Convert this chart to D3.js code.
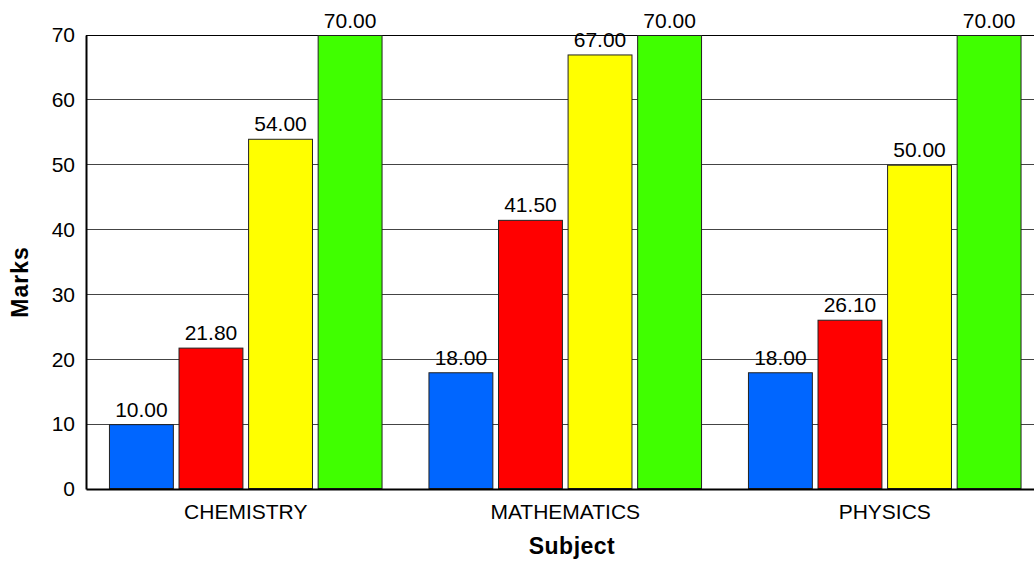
<!DOCTYPE html>
<html><head><meta charset="utf-8">
<script src="https://cdn.jsdelivr.net/npm/d3@7"></script>
<style>body{margin:0;background:#fff;} svg{display:block;font-family:"Liberation Sans",Arial,sans-serif;}</style>
</head><body>
<svg id="chart" width="1034" height="562"></svg>
<script>
const categories = ["CHEMISTRY", "MATHEMATICS", "PHYSICS"];
const seriesNames = ["s1", "s2", "s3", "s4"];
const seriesColors = ["#0066ff", "#ff0000", "#ffff00", "#40ff00"];
const s1 = [10.00, 18.00, 18.00];
const s2 = [21.80, 41.50, 26.10];
const s3 = [54.00, 67.00, 50.00];
const s4 = [70.00, 70.00, 70.00];
const yTicks = [0, 10, 20, 30, 40, 50, 60, 70];
const seriesValues = [s1, s2, s3, s4];

const svg = d3.select("#chart");
const mLeft = 86, mRight = 1044.5, mTop = 35, mBottom = 489;

const x0 = d3.scaleBand().domain(categories).range([mLeft, mRight]).padding(0);
const x1 = d3.scaleBand().domain(seriesNames).range([0, x0.bandwidth()]).paddingInner(0.067).paddingOuter(0.33);
const y = d3.scaleLinear().domain([0, 70]).range([mBottom, mTop]);

// gridlines
svg.append("g").selectAll("line").data(yTicks.filter(t => t > 0)).join("line")
  .attr("x1", mLeft).attr("x2", mRight)
  .attr("y1", d => y(d)).attr("y2", d => y(d))
  .attr("stroke", d => d === 70 ? "#000" : "#444").attr("stroke-width", 1).attr("shape-rendering", "crispEdges");

// bars
const groups = svg.append("g").selectAll("g").data(categories).join("g")
  .attr("transform", c => `translate(${x0(c)},0)`);
groups.each(function(c, ci) {
  const g = d3.select(this);
  seriesNames.forEach((s, si) => {
    const v = seriesValues[si][ci];
    g.append("rect")
      .attr("x", x1(s) + 0.5).attr("y", y(v) + 0.5)
      .attr("width", x1.bandwidth() - 1).attr("height", y(0) - y(v) - 1)
      .attr("fill", seriesColors[si]).attr("stroke", "#222").attr("stroke-width", 1);
    g.append("text")
      .attr("x", x1(s) + x1.bandwidth() / 2).attr("y", y(v) - 7.5)
      .attr("text-anchor", "middle").attr("font-size", 21).attr("fill", "#000")
      .text(v.toFixed(2));
  });
});

// y axis
const yAxis = svg.append("g").attr("transform", `translate(${mLeft},0)`)
  .call(d3.axisLeft(y).tickValues(yTicks).tickSize(0).tickPadding(11).tickFormat(d3.format("d")));
yAxis.select(".domain").attr("stroke", "#000").attr("stroke-width", 2);
yAxis.selectAll("text").attr("font-size", 21).attr("font-family", "Liberation Sans, Arial, sans-serif").attr("fill", "#000");

// x axis
const xAxis = svg.append("g").attr("transform", `translate(0,${mBottom})`)
  .call(d3.axisBottom(x0).tickSize(0).tickPadding(15));
xAxis.select(".domain").attr("stroke", "#000").attr("stroke-width", 2);
xAxis.selectAll("text").attr("font-size", 21).attr("font-family", "Liberation Sans, Arial, sans-serif").attr("fill", "#000");

// titles
svg.append("text").attr("x", 572).attr("y", 554).attr("text-anchor", "middle")
  .attr("font-size", 23).attr("font-weight", "bold").attr("letter-spacing", 0.5).text("Subject");
svg.append("text").attr("transform", `translate(28,282) rotate(-90)`)
  .attr("text-anchor", "middle").attr("font-size", 23).attr("font-weight", "bold").attr("letter-spacing", 1).text("Marks");
</script>
</body></html>
